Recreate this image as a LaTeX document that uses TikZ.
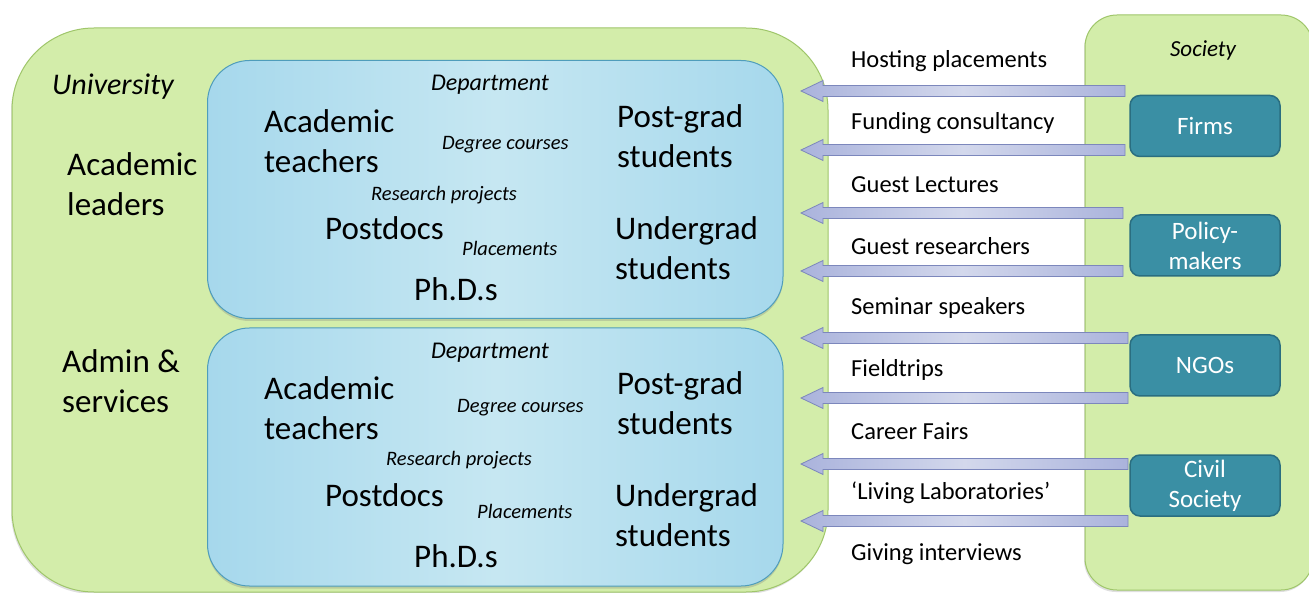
\documentclass[tikz,border=0pt]{standalone}
\usepackage{fontspec}
\setmainfont{Carlito}
\usetikzlibrary{calc,shadows}
\definecolor{unigreen}{HTML}{D3EDAA}
\definecolor{unigreenline}{HTML}{9FC66A}
\definecolor{deptblue}{HTML}{A6D8EC}
\definecolor{deptlight}{HTML}{C6E7F2}
\definecolor{deptline}{HTML}{4F9DBB}
\definecolor{tealbox}{HTML}{3A8FA4}
\definecolor{tealline}{HTML}{2A6E80}
\definecolor{arrowfill}{HTML}{AAB3DC}
\definecolor{arrowlight}{HTML}{D3D8EC}
\definecolor{arrowline}{HTML}{7C87BC}
\tikzset{
  greenbox/.style={draw=unigreenline, fill=unigreen, line width=1pt, inner sep=0pt,
    drop shadow={opacity=0.25, shadow xshift=-1pt, shadow yshift=-2pt}},
  deptbox/.style={draw=deptline, line width=1pt, left color=deptblue, right color=deptblue,
    middle color=deptlight, rounded corners=42pt, inner sep=0pt,
    minimum width=575.5pt, minimum height=258pt,
    drop shadow={opacity=0.3, shadow xshift=0pt, shadow yshift=-2.5pt}},
  actor/.style={draw=tealline, fill=tealbox, line width=1.5pt, rounded corners=10pt,
    minimum width=150pt, minimum height=61pt, inner sep=0pt, text=white, align=center,
    font=\fontsize{25}{30}\selectfont},
  lbl/.style={anchor=west, inner sep=0pt, font=\fontsize{24.5}{29}\selectfont},
  big/.style={anchor=west, inner sep=0pt, align=left, font=\fontsize{33}{40}\selectfont},
  small/.style={anchor=west, inner sep=0pt, font=\itshape\fontsize{20.5}{24}\selectfont},
  blockarrow/.style={draw=arrowline, line width=0.8pt, left color=arrowfill,
    right color=arrowfill, middle color=arrowlight},
}
\begin{document}
\begin{tikzpicture}[x=1pt,y=-1pt]
\useasboundingbox (0,0) rectangle (1309,593);
\fill[white] (0,0) rectangle (1309,593);

% containers
\node[greenbox, rounded corners=82pt, minimum width=816pt, minimum height=564pt] (uni) at (420,310) {};
\node[greenbox, rounded corners=32pt, minimum width=228pt, minimum height=575pt] (soc) at (1199,302.5) {};
\node[deptbox] (dept1) at (495.25,189.5) {};
\node[deptbox] (dept2) at (495.25,457) {};

% university labels
\node[anchor=west, inner sep=0pt, font=\itshape\fontsize{30}{36}\selectfont] (unilbl) at (52,86.5) {University};
\node[big] (leaders) at (67,184) {Academic\\leaders};
\node[big] (admin) at (62,381) {Admin \&\\services};

% department 1
\node[inner sep=0pt, font=\itshape\fontsize{24}{28}\selectfont] (dep1) at (490,84.5) {Department};
\node[big] (teach1) at (264,141) {Academic\\teachers};
\node[small] (deg1) at (442,145) {Degree courses};
\node[big] (pg1) at (617,136) {Post-grad\\students};
\node[small] (res1) at (371,195) {Research projects};
\node[big] (pd1) at (325,228) {Postdocs};
\node[small] (pl1) at (462,248) {Placements};
\node[big] (ug1) at (615,248) {Undergrad\\students};
\node[big] (phd1) at (414,289) {Ph.D.s};

% department 2
\node[inner sep=0pt, font=\itshape\fontsize{24}{28}\selectfont] (dep2) at (490,352.5) {Department};
\node[big] (teach2) at (264,408) {Academic\\teachers};
\node[small] (deg2) at (457,408) {Degree courses};
\node[big] (pg2) at (617,403) {Post-grad\\students};
\node[small] (res2) at (386,460) {Research projects};
\node[big] (pd2) at (325,495) {Postdocs};
\node[small] (pl2) at (477,511) {Placements};
\node[big] (ug2) at (615,515) {Undergrad\\students};
\node[big] (phd2) at (414,556) {Ph.D.s};

% society
\node[inner sep=0pt, font=\itshape\fontsize{23}{27}\selectfont] (soclbl) at (1203,50) {Society};
\node[actor] (firms) at (1205,126) {Firms};
\node[actor] (policy) at (1205,245.5) {Policy-\\makers};
\node[actor] (ngos) at (1205,365.5) {NGOs};
\node[actor] (civil) at (1205,485.5) {Civil\\Society};

% arrows
\foreach \i/\y/\e in {1/91/1125,2/150/1125,3/213/1123,4/271/1123,5/338/1128,6/398/1128,7/464/1128,8/521/1128}{
  \coordinate (t\i) at (\e,\y);
  \coordinate (h\i) at (801,\y);
  \shadedraw[blockarrow] (h\i) -- ($(h\i)+(22,-10.5)$) -- ($(h\i)+(22,-5.5)$) -- ($(t\i)+(0,-5.5)$)
     -- ($(t\i)+(0,5.5)$) -- ($(h\i)+(22,5.5)$) -- ($(h\i)+(22,10.5)$) -- cycle;
}

% link labels
\node[lbl] (l1) at (851,61.5) {Hosting placements};
\node[lbl] (l2) at (851,123.5) {Funding consultancy};
\node[lbl] (l3) at (851,184.5) {Guest Lectures};
\node[lbl] (l4) at (851,246.5) {Guest researchers};
\node[lbl] (l5) at (851,307.5) {Seminar speakers};
\node[lbl] (l6) at (851,369.5) {Fieldtrips};
\node[lbl] (l7) at (851,431.5) {Career Fairs};
\node[lbl] (l8) at (851,492.5) {‘Living Laboratories’};
\node[lbl] (l9) at (851,554.5) {Giving interviews};
\end{tikzpicture}
\end{document}
